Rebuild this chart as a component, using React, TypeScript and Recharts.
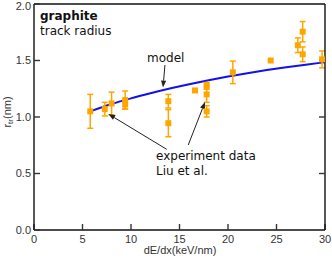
import React from 'react';
import {
  ComposedChart, XAxis, YAxis, Scatter, Line, ErrorBar, ReferenceLine, Customized,
} from 'recharts';

// experiment data (Liu et al.)
const expX = [5.8, 7.3, 8.0, 9.4, 9.4, 13.85, 13.85, 16.6, 17.8, 17.8, 17.8, 20.5, 24.4, 27.2, 27.7, 27.7, 29.7];
const expY = [1.05, 1.07, 1.12, 1.15, 1.11, 1.14, 0.945, 1.235, 1.275, 1.2, 1.05, 1.395, 1.5, 1.635, 1.755, 1.555, 1.51];
const expErr = [0.15, 0.06, 0.1, 0.08, 0.04, 0.06, 0.12, 0, 0.03, 0.07, 0.05, 0.1, 0, 0.065, 0.09, 0.065, 0.075];

// model curve
const modelX = [5.8, 8, 10, 12, 14, 16, 18, 20, 22, 24, 26, 28, 30];
const modelY = [1.05, 1.115, 1.165, 1.21, 1.252, 1.29, 1.325, 1.358, 1.388, 1.415, 1.44, 1.463, 1.485];

const xTicks = [0, 5, 10, 15, 20, 25, 30];
const xTopTicks = [5, 10, 15, 20, 25];
const yTicks = [0, 0.5, 1.0, 1.5, 2.0];
const yRightTicks = [0.5, 1.0, 1.5];

// annotation arrows [fromX, fromY, toX, toY]
const arrows = [
  [13.5, 1.46, 13.3, 1.26],
  [13.68, 0.714, 7.66, 1.027],
  [15.9, 0.752, 17.63, 1.133],
];

const expData = expX.map((x, i) => ({ x, y: expY[i], e: expErr[i] }));
const modelData = modelX.map((x, i) => ({ x, y: modelY[i] }));

const TICK_FONT = { fontFamily: 'Liberation Sans, Arial, sans-serif', fontSize: 11, fill: '#333' };
const ANN_FONT = 'DejaVu Sans, Verdana, sans-serif';

const Arrow = (props: any) => {
  const { x1, y1, x2, y2 } = props;
  const ang = Math.atan2(y2 - y1, x2 - x1);
  const L = 7, W = 2.6;
  const bx = x2 - L * Math.cos(ang), by = y2 - L * Math.sin(ang);
  const px = -Math.sin(ang) * W, py = Math.cos(ang) * W;
  return (
    <g>
      <line x1={x1} y1={y1} x2={bx} y2={by} stroke="#222" strokeWidth={1} />
      <polygon points={`${x2},${y2} ${bx + px},${by + py} ${bx - px},${by - py}`} fill="#222" />
    </g>
  );
};

const Square = (p: any) => (
  <rect x={p.cx - 3} y={p.cy - 3} width={6} height={6} fill="#FFA500" />
);

const Texts = () => (
  <g>
    <text x={40} y={20} fontFamily={ANN_FONT} fontSize={12} fontWeight="bold" fill="#111">graphite</text>
    <text x={40} y={34.5} fontFamily={ANN_FONT} fontSize={12} fill="#111">track radius</text>
    <text x={147} y={61.5} fontFamily={ANN_FONT} fontSize={12} fill="#111">model</text>
    <text x={156} y={160} fontFamily={ANN_FONT} fontSize={12} fill="#111">experiment data</text>
    <text x={156} y={175} fontFamily={ANN_FONT} fontSize={12} fill="#111">Liu et al.</text>
    <text x={180} y={254} textAnchor="middle" {...TICK_FONT}>dE/dx(keV/nm)</text>
    <text x={11} y={112} transform="rotate(-90, 11, 112)" textAnchor="middle" {...TICK_FONT}>
      r<tspan dy={2} fontSize={8}>tr</tspan><tspan dy={-2}>(nm)</tspan>
    </text>
  </g>
);

export default function App() {
  return (
    <div style={{ position: 'absolute', left: 0, top: 0, background: '#fff' }}>
      <ComposedChart width={332} height={258} margin={{ top: 0, right: 0, bottom: 0, left: 0 }}>
        <XAxis
          type="number" dataKey="x" domain={[0, 30]} ticks={xTicks} allowDataOverflow
          height={28} tickSize={-6} tickMargin={11} tick={TICK_FONT}
          axisLine={{ stroke: '#111', strokeWidth: 1.4 }} tickLine={{ stroke: '#333', strokeWidth: 1.4 }}
        />
        <XAxis
          xAxisId="top" orientation="top" type="number" domain={[0, 30]} ticks={xTopTicks} allowDataOverflow
          height={4} tickSize={-6} tickFormatter={() => ''}
          axisLine={{ stroke: '#111', strokeWidth: 1.4 }} tickLine={{ stroke: '#333', strokeWidth: 1.4 }}
        />
        <YAxis
          type="number" domain={[0, 2]} ticks={yTicks} allowDataOverflow
          width={34} tickSize={-6} tickMargin={9} tick={TICK_FONT}
          tickFormatter={(v: number) => v.toFixed(1)}
          axisLine={{ stroke: '#111', strokeWidth: 1.4 }} tickLine={{ stroke: '#333', strokeWidth: 1.4 }}
        />
        <YAxis
          yAxisId="right" orientation="right" type="number" domain={[0, 2]} ticks={yRightTicks} allowDataOverflow
          width={7} tickSize={-6} tickFormatter={() => ''}
          axisLine={{ stroke: '#111', strokeWidth: 1.4 }} tickLine={{ stroke: '#333', strokeWidth: 1.4 }}
        />
        <Line
          data={modelData} dataKey="y" type="monotone" stroke="#1010F0" strokeWidth={2}
          dot={false} activeDot={false} isAnimationActive={false}
        />
        <Scatter data={expData} dataKey="y" shape={Square} isAnimationActive={false}>
          <ErrorBar dataKey="e" direction="y" width={3} stroke="#FFA500" strokeWidth={1.5} isAnimationActive={false} />
        </Scatter>
        {arrows.map((a, i) => (
          <ReferenceLine
            key={i}
            segment={[{ x: a[0], y: a[1] }, { x: a[2], y: a[3] }]}
            shape={Arrow}
            ifOverflow="visible"
          />
        ))}
        <Customized component={Texts} />
      </ComposedChart>
    </div>
  );
}
